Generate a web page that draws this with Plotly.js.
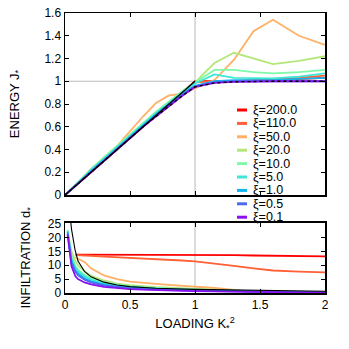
<!DOCTYPE html>
<html>
<head>
<meta charset="utf-8">
<script src="https://cdn.plot.ly/plotly-3.0.1.min.js"></script>
<style>html,body{margin:0;padding:0;background:#fff}#chart{width:349px;height:349px}</style>
</head>
<body>
<div id="chart"></div>
<script>
// ---------- data ----------
const legendLabels = ['ξ=200.0','ξ=110.0','ξ=50.0','ξ=20.0','ξ=10.0','ξ=5.0','ξ=1.0','ξ=0.5','ξ=0.1'];

// top panel: energy J* vs loading K*^2
const xTop = [0,0.1,0.2,0.3,0.4,0.5,0.6,0.7,0.8,0.9,1.0,1.15,1.3,1.45,1.6,1.8,2.0];
const energy200 = [0,0.1,0.2,0.3,0.4,0.5,0.6,0.7,0.8,0.9,1.0,1.0,1.0,1.005,1.01,1.02,1.03];
const energy110 = [0,0.1,0.2,0.3,0.4,0.5,0.6,0.7,0.8,0.9,0.99,1.0,1.0,1.01,1.02,1.03,1.05];
const energy50  = [0,0.1,0.21,0.33,0.43,0.56,0.69,0.81,0.875,0.89,0.94,1.01,1.19,1.44,1.54,1.40,1.32];
const energy20  = [0,0.11,0.23,0.33,0.43,0.53,0.63,0.73,0.82,0.91,0.99,1.16,1.25,1.2,1.15,1.18,1.22];
const energy10  = [0,0.11,0.22,0.33,0.43,0.53,0.63,0.73,0.82,0.91,0.99,1.1,1.1,1.08,1.07,1.08,1.1];
const energy5   = [0,0.11,0.22,0.32,0.42,0.52,0.62,0.72,0.81,0.9,0.98,1.06,1.03,1.025,1.025,1.04,1.07];
const energy1   = [0,0.1,0.21,0.31,0.41,0.51,0.61,0.71,0.8,0.89,0.96,1.0,1.01,1.01,1.01,1.02,1.03];
const energy05  = [0,0.1,0.2,0.3,0.4,0.5,0.6,0.7,0.79,0.88,0.955,0.99,1.0,1.0,1.0,1.0,1.0];
const energy01  = [0,0.1,0.2,0.3,0.4,0.5,0.6,0.69,0.78,0.87,0.95,0.985,0.995,1.0,1.0,1.0,1.0];
const xRigid = [0,1.0];
const energyRigid = [0,1.0];

// bottom panel: infiltration d* vs loading K*^2
const xBottom = [0.02,0.05,0.08,0.1,0.15,0.2,0.3,0.4,0.5,0.6,0.7,0.8,0.9,1.0,1.15,1.3,1.45,1.6,1.8,2.0];
const infil200 = [null,null,13.8,13.8,13.8,13.8,13.8,13.8,13.8,13.8,13.8,13.8,13.8,13.7,13.7,13.6,13.5,13.4,13.3,13.2];
const infil110 = [null,null,13.6,13.6,13.5,13.4,13.1,12.9,12.6,12.4,12.2,11.9,11.7,11.4,10.7,9.8,8.9,8.1,7.7,7.4];
const infil50  = [null,null,13.0,12.3,11.2,8.9,6.3,5.0,4.1,3.6,3.3,2.9,2.6,2.3,1.8,1.1,0.3,0.1,0.1,0.1];
const infil20  = [22,15,11.5,10.0,7.8,6.2,4.5,3.4,2.8,2.4,2.1,1.9,1.7,1.5,1.1,0.8,0.6,0.5,0.4,0.35];
const infil10  = [22.5,13.5,9.8,8.5,6.6,5.3,3.8,3.0,2.5,2.1,1.8,1.6,1.4,1.25,0.95,0.7,0.55,0.45,0.35,0.3];
const infil5   = [22.5,12.5,9.0,7.8,6.0,4.8,3.4,2.7,2.2,1.9,1.6,1.4,1.25,1.1,0.85,0.65,0.5,0.4,0.3,0.25];
const infil1   = [22,11.5,8.2,7.0,5.3,4.2,3.0,2.3,1.9,1.6,1.4,1.2,1.05,0.95,0.75,0.6,0.45,0.35,0.28,0.22];
const infil05  = [21.5,10.8,7.6,6.4,4.8,3.8,2.7,2.1,1.7,1.4,1.2,1.05,0.95,0.85,0.7,0.55,0.42,0.33,0.26,0.2];
const infil01  = [21,9.6,6.0,5.0,3.8,3.1,2.2,1.7,1.4,1.2,1.0,0.9,0.8,0.7,0.55,0.45,0.4,0.3,0.25,0.2];
const xRigidB = [0.035,0.05,0.077,0.1,0.15,0.2,0.3,0.4,0.5,0.7,1.0,1.5,2.0];
const infilRigid = [30,23,15.6,11.5,7.8,5.8,3.9,2.9,2.3,1.7,1.3,0.9,0.65];

// ---------- styles ----------
const colors = ['#ff0000','#ff6035','#ffb066','#b4e67a','#7dfaa8','#3ee6d6','#12b4f0','#4a6af0','#8a10f0'];
const energySeries = [energy200,energy110,energy50,energy20,energy10,energy5,energy1,energy05,energy01];
const infilSeries = [infil200,infil110,infil50,infil20,infil10,infil5,infil1,infil05,infil01];

const traces = [];
energySeries.forEach((ys,i)=>{
  traces.push({x:xTop,y:ys,xaxis:'x2',yaxis:'y2',mode:'lines',name:legendLabels[i],
    line:{color:colors[i],width:1.8},showlegend:false,hoverinfo:'skip'});
});
traces.push({x:xRigid,y:energyRigid,xaxis:'x2',yaxis:'y2',mode:'lines',line:{color:'#000',width:1.3},showlegend:false});
traces.push({x:xTop,y:energy01,xaxis:'x2',yaxis:'y2',mode:'lines',line:{color:'#000',width:1.3,dash:'dot'},showlegend:false});
infilSeries.forEach((ys,i)=>{
  traces.push({x:xBottom,y:ys,xaxis:'x',yaxis:'y',mode:'lines',name:legendLabels[i],
    line:{color:colors[i],width:1.8},showlegend:false,connectgaps:false});
});
traces.push({x:xRigidB,y:infilRigid,xaxis:'x',yaxis:'y',mode:'lines',line:{color:'#000',width:1.1},showlegend:false});

// ---------- layout ----------
const L=65,R=24,T=13,B=56,W=349,H=349;
const pw=W-L-R, ph=H-T-B;
const px2x = p => (p-L)/pw;
const py2y = p => (H-B-p)/ph;

const fontFam = 'Liberation Sans, Arial, sans-serif';
const axisCommon = {showline:true,linecolor:'#000',linewidth:1.5,mirror:'allticks',ticks:'inside',ticklen:4,
  tickcolor:'#000',showgrid:false,zeroline:false,tickfont:{family:fontFam,size:12,color:'#000'}};

const shapes = [
  {type:'line',xref:'x',yref:'y domain',x0:1,x1:1,y0:0,y1:1,line:{color:'#bbbbbb',width:1},layer:'below'},
  {type:'line',xref:'x2',yref:'y2 domain',x0:1,x1:1,y0:0,y1:1,line:{color:'#bbbbbb',width:1},layer:'below'},
  {type:'line',xref:'x2 domain',yref:'y2',x0:0,x1:1,y0:1,y1:1,line:{color:'#bbbbbb',width:1},layer:'below'}
];
const annotations = [];
legendLabels.forEach((lab,i)=>{
  const py = 110 + 13.4*i;
  shapes.push({type:'line',xref:'paper',yref:'paper',x0:px2x(237),x1:px2x(247),y0:py2y(py),y1:py2y(py),
    line:{color:colors[i],width:3}});
  annotations.push({xref:'paper',yref:'paper',x:px2x(252),y:py2y(py),xanchor:'left',yanchor:'middle',
    text:lab,showarrow:false,font:{family:fontFam,size:12.5,color:'#000'},borderpad:0});
});

const layout = {
  width:W,height:H,margin:{l:L,r:R,t:T,b:B},paper_bgcolor:'#fff',plot_bgcolor:'#fff',
  showlegend:false,font:{family:fontFam,color:'#000'},
  xaxis:Object.assign({},axisCommon,{domain:[0,1],range:[0,2],anchor:'y',tickvals:[0,0.5,1,1.5,2],
    title:{text:'LOADING K<sub>*</sub><sup>2</sup>',font:{family:fontFam,size:13,color:'#000'},standoff:8}}),
  yaxis:Object.assign({},axisCommon,{domain:[0,py2y(222.7)],range:[0,25.3],anchor:'x',tickvals:[0,5,10,15,20,25],
    title:{text:'INFILTRATION d<sub>*</sub>',font:{family:fontFam,size:13,color:'#000'},standoff:14}}),
  xaxis2:Object.assign({},axisCommon,{domain:[0,1],range:[0,2],anchor:'y2',matches:'x',showticklabels:false,
    tickvals:[0,0.5,1,1.5,2]}),
  yaxis2:Object.assign({},axisCommon,{domain:[py2y(195),1],range:[0,1.6],anchor:'x2',
    tickvals:[0,0.2,0.4,0.6,0.8,1,1.2,1.4,1.6],
    title:{text:'ENERGY J<sub>*</sub>',font:{family:fontFam,size:13,color:'#000'},standoff:22}}),
  shapes:shapes,annotations:annotations
};
Plotly.newPlot('chart',traces,layout,{staticPlot:true,displayModeBar:false});
</script>
</body>
</html>
